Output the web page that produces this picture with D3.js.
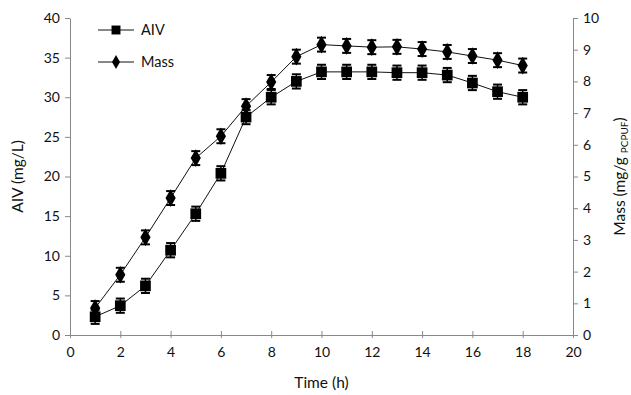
<!DOCTYPE html>
<html><head><meta charset="utf-8">
<script src="https://cdn.jsdelivr.net/npm/d3@7"></script>
<style>body{margin:0;background:#fff}svg{display:block}text{font-family:Lato,"Open Sans",sans-serif;fill:#111}</style>
</head><body><svg id="c" width="631" height="395"></svg>
<script>
const time = [1,2,3,4,5,6,7,8,9,10,11,12,13,14,15,16,17,18];
const aiv = [2.3,3.7,6.2,10.7,15.3,20.4,27.5,30.0,32.0,33.2,33.2,33.2,33.1,33.1,32.8,31.8,30.7,30.0];
const aivErr = [0.9,0.9,0.9,0.9,0.9,0.9,0.9,0.9,0.9,0.9,0.9,0.9,0.9,0.9,0.9,0.9,0.9,0.9];
const mass = [0.85,1.9,3.08,4.32,5.58,6.27,7.22,7.98,8.78,9.16,9.12,9.08,9.09,9.02,8.93,8.8,8.67,8.5];
const massErr = [0.22,0.22,0.22,0.22,0.22,0.22,0.22,0.22,0.22,0.22,0.22,0.22,0.22,0.22,0.22,0.22,0.22,0.22];
const xTicks = [0,2,4,6,8,10,12,14,16,18,20];
const yLeftTicks = [0,5,10,15,20,25,30,35,40];
const yRightTicks = [0,1,2,3,4,5,6,7,8,9,10];

const svg = d3.select("#c");
const L=70,R=573,T=18,B=335;
const x = d3.scaleLinear().domain([0,20]).range([L,R]);
const yL = d3.scaleLinear().domain([0,40]).range([B,T]);
const yR = d3.scaleLinear().domain([0,10]).range([B,T]);
const axisColor="#888";

function styleAxis(g){g.selectAll(".domain").attr("stroke",axisColor);g.selectAll(".tick line").attr("stroke",axisColor);g.selectAll(".tick text").attr("font-size",14).style("fill","#111");}

svg.append("g").attr("transform",`translate(0,${B})`)
 .call(d3.axisBottom(x).tickValues(xTicks).tickSizeInner(4).tickSizeOuter(0).tickPadding(8))
 .call(styleAxis).call(g=>g.selectAll(".tick line").attr("y1",-4).attr("y2",3));
svg.append("g").attr("transform",`translate(${L},0)`)
 .call(d3.axisLeft(yL).tickValues(yLeftTicks).tickSizeInner(5).tickSizeOuter(0).tickPadding(5))
 .call(styleAxis);
svg.append("g").attr("transform",`translate(${R},0)`)
 .call(d3.axisRight(yR).tickValues(yRightTicks).tickSizeInner(5).tickSizeOuter(0).tickPadding(5))
 .call(styleAxis);

function drawSeries(vals, errs, y, shape){
  const line = d3.line().x((d,i)=>x(time[i])).y(d=>y(d));
  svg.append("path").datum(vals).attr("d",line).attr("fill","none").attr("stroke","#111").attr("stroke-width",1);
  const g = svg.append("g");
  vals.forEach((v,i)=>{
    const cx=x(time[i]), lo=y(v-errs[i]), hi=y(v+errs[i]);
    g.append("line").attr("x1",cx).attr("x2",cx).attr("y1",lo).attr("y2",hi).attr("stroke","#000").attr("stroke-width",1.5);
    [lo,hi].forEach(yy=>g.append("line").attr("x1",cx-4.5).attr("x2",cx+4.5).attr("y1",yy).attr("y2",yy).attr("stroke","#000").attr("stroke-width",2));
    g.append("path").attr("transform",`translate(${cx},${y(v)})`)
     .attr("d",d3.symbol().type(shape).size(shape===d3.symbolSquare?115:90)()).attr("fill","#000");
  });
}
drawSeries(aiv, aivErr, yL, d3.symbolSquare);
drawSeries(mass, massErr, yR, d3.symbolDiamond);

// legend
const leg=[{name:"AIV",shape:d3.symbolSquare,s:80,y:30},{name:"Mass",shape:d3.symbolDiamond,s:55,y:62}];
leg.forEach(l=>{
  svg.append("line").attr("x1",98).attr("x2",134).attr("y1",l.y).attr("y2",l.y).attr("stroke","#111");
  svg.append("path").attr("transform",`translate(116,${l.y})`).attr("d",d3.symbol().type(l.shape).size(l.s)()).attr("fill","#000");
  svg.append("text").attr("x",141).attr("y",l.y+5).attr("font-size",14.5).text(l.name);
});

// titles
svg.append("text").attr("x",(L+R)/2).attr("y",388).attr("text-anchor","middle").attr("font-size",15.5).text("Time (h)");
svg.append("text").attr("transform",`translate(23,${(T+B)/2}) rotate(-90)`).attr("text-anchor","middle").attr("font-size",15.5).text("AIV (mg/L)");
const rt=svg.append("text").attr("transform",`translate(625,${(T+B)/2}) rotate(-90)`).attr("text-anchor","middle").attr("font-size",15.5);
rt.append("tspan").text("Mass (mg/g ");
rt.append("tspan").attr("font-size",10).attr("dy",3).text("PCPUF");
rt.append("tspan").attr("dy",-3).text(")");
</script></body></html>
